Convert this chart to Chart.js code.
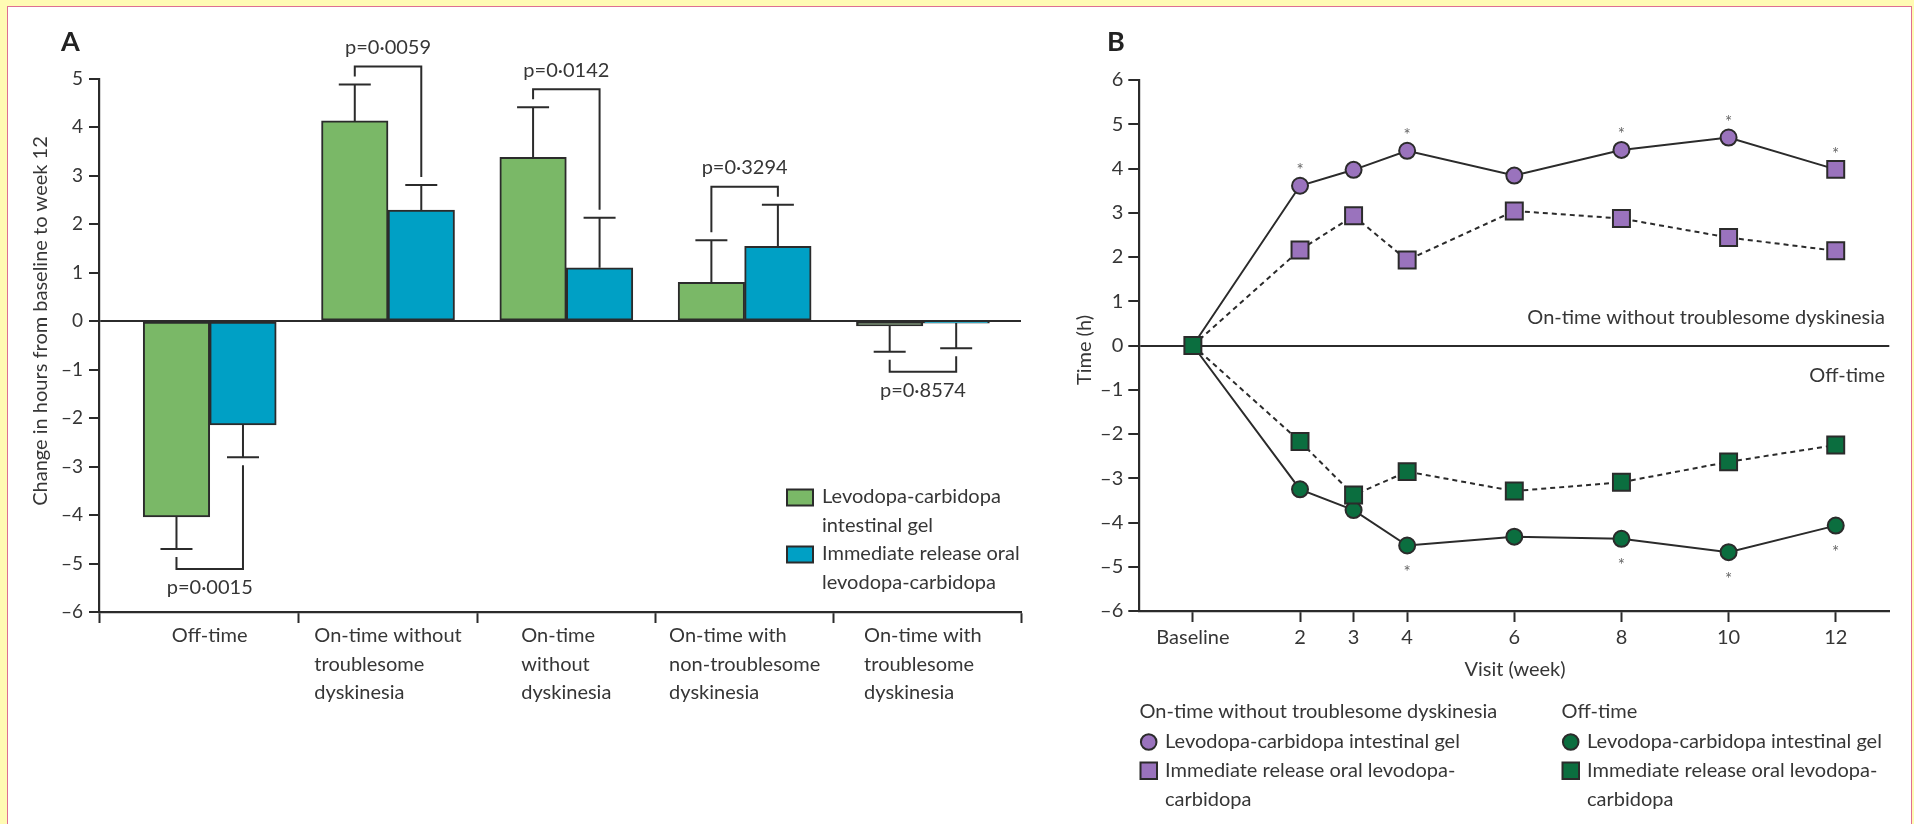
<!DOCTYPE html>
<html>
<head>
<meta charset="utf-8">
<script src="https://cdn.jsdelivr.net/npm/chart.js@4.4.1/dist/chart.umd.min.js"></script>
<style>
  html, body { margin: 0; padding: 0; width: 1914px; height: 824px; overflow: hidden; background: #fffbb4; }
  #frame { position: absolute; left: 7px; top: 6px; width: 1905px; height: 830px; background: #fff;
           border: 1.5px solid #de6f92; border-bottom: none; box-sizing: border-box; }
  canvas { position: absolute; top: 0; }
  #chartA { left: 0; }
  #chartB { left: 1060px; }
</style>
</head>
<body>
<div id="frame"></div>
<canvas id="chartA" width="1060" height="824"></canvas>
<canvas id="chartB" width="854" height="824"></canvas>
<script>
// ---- panel A data ----
const categories = [
  ['Off-time'],
  ['On-time without', 'troublesome', 'dyskinesia'],
  ['On-time', 'without', 'dyskinesia'],
  ['On-time with', 'non-troublesome', 'dyskinesia'],
  ['On-time with', 'troublesome', 'dyskinesia']
];
const lcigChange = [-4.04, 4.13, 3.38, 0.80, -0.10];
const oralChange = [-2.14, 2.29, 1.10, 1.54, -0.04];
const lcigErrEnd = [-4.70, 4.88, 4.41, 1.67, -0.63];
const oralErrEnd = [-2.81, 2.81, 2.13, 2.40, -0.56];
const pValues = ['p=0·0015', 'p=0·0059', 'p=0·0142', 'p=0·3294', 'p=0·8574'];
const legendA = [['Levodopa-carbidopa', 'intestinal gel'], ['Immediate release oral', 'levodopa-carbidopa']];

// ---- panel B data ----
const visitWeeks = [0, 2, 3, 4, 6, 8, 10, 12];
const visitLabels = ['Baseline', '2', '3', '4', '6', '8', '10', '12'];
const onLcig = [0, 3.61, 3.97, 4.40, 3.84, 4.42, 4.70, 3.98];
const onOral = [0, 2.16, 2.93, 1.93, 3.04, 2.87, 2.44, 2.14];
const offLcig = [0, -3.25, -3.72, -4.52, -4.32, -4.37, -4.67, -4.07];
const offOral = [0, -2.17, -3.38, -2.85, -3.29, -3.09, -2.63, -2.25];
const onSigWeeks = [2, 4, 8, 10, 12];
const offSigWeeks = [4, 8, 10, 12];

const GREEN = '#7ab867', BLUE = '#00a0c5', PURPLE = '#9a73bd', DKGREEN = '#0b6e3f';
const INK = '#2b2b2b', TEXT = '#363636';
const FONT = 'Lato, "Open Sans", sans-serif';
Chart.defaults.font.family = FONT;

const dash = v => v < 0 ? '\u2013' + Math.abs(v) : String(v);

function say(ctx, str, x, y, opt = {}) {
  ctx.font = `${opt.weight || 'normal'} ${opt.size || 20}px ${FONT}`;
  ctx.fillStyle = opt.color || TEXT;
  ctx.textAlign = opt.align || 'left';
  ctx.textBaseline = 'middle';
  ctx.fillText(str, x, y);
}
function sayRotated(ctx, str, x, y, size) {
  ctx.save();
  ctx.translate(x, y);
  ctx.rotate(-Math.PI / 2);
  say(ctx, str, 0, 0, { size, align: 'center' });
  ctx.restore();
}

// error bars + p value brackets
const errorBars = {
  id: 'errorBars',
  afterDatasetsDraw(chart) {
    const ctx = chart.ctx, y = chart.scales.y;
    const metaG = chart.getDatasetMeta(0), metaB = chart.getDatasetMeta(1);
    ctx.save();
    ctx.strokeStyle = INK;
    ctx.lineWidth = 2;
    [lcigErrEnd, oralErrEnd].forEach((ends, d) => {
      chart.getDatasetMeta(d).data.forEach((bar, i) => {
        const yEnd = y.getPixelForValue(ends[i]);
        ctx.beginPath();
        ctx.moveTo(bar.x, bar.y);
        ctx.lineTo(bar.x, yEnd);
        ctx.moveTo(bar.x - 16, yEnd);
        ctx.lineTo(bar.x + 16, yEnd);
        ctx.stroke();
      });
    });
    categories.forEach((c, i) => {
      const g = metaG.data[i], b = metaB.data[i];
      const gy = y.getPixelForValue(lcigErrEnd[i]), by = y.getPixelForValue(oralErrEnd[i]);
      const up = lcigErrEnd[i] > 0;
      const s = up ? -1 : 1;
      const level = up ? Math.min(gy, by) - 18 : Math.max(gy, by) + 20;
      ctx.beginPath();
      ctx.moveTo(g.x, gy + s * 8);
      ctx.lineTo(g.x, level);
      ctx.lineTo(b.x, level);
      ctx.lineTo(b.x, by + s * 8);
      ctx.stroke();
      say(ctx, pValues[i], (g.x + b.x) / 2, level + s * 19, { align: 'center' });
    });
    ctx.restore();
  }
};

const textA = {
  id: 'textA',
  afterDraw(chart) {
    const ctx = chart.ctx, x = chart.scales.x;
    ctx.save();
    say(ctx, 'A', 61, 42, { weight: 'bold', size: 27, color: '#222' });
    sayRotated(ctx, 'Change in hours from baseline to week 12', 41, 321, 20);
    // category labels, left aligned lines in a centred block
    categories.forEach((lines, i) => {
      const l = Math.max(x.left, x.getPixelForValue(i - 0.5));
      const r = Math.min(x.right, x.getPixelForValue(i + 0.5));
      ctx.font = `20px ${FONT}`;
      const w = Math.max(...lines.map(t => ctx.measureText(t).width));
      const x0 = (l + r) / 2 - w / 2;
      lines.forEach((t, k) => say(ctx, t, x0, 636 + k * 28.3));
    });
    // legend
    [GREEN, BLUE].forEach((col, d) => {
      const top = 489.5 + d * 57;
      ctx.fillStyle = col;
      ctx.fillRect(787, top, 26, 16);
      ctx.strokeStyle = INK;
      ctx.lineWidth = 2;
      ctx.strokeRect(787, top, 26, 16);
      legendA[d].forEach((t, k) => say(ctx, t, 822, 497 + d * 57 + k * 28.3));
    });
    ctx.restore();
  }
};

new Chart(document.getElementById('chartA'), {
  type: 'bar',
  data: {
    datasets: [
      {
        label: legendA[0].join(' '),
        data: lcigChange.map((v, i) => ({ x: i, y: v })),
        backgroundColor: GREEN, borderColor: INK, borderWidth: 2, borderSkipped: false, barThickness: 66.5
      },
      {
        label: legendA[1].join(' '),
        data: oralChange.map((v, i) => ({ x: i, y: v })),
        backgroundColor: BLUE, borderColor: INK, borderWidth: 2, borderSkipped: false, barThickness: 66.5
      }
    ]
  },
  options: {
    responsive: false,
    animation: false,
    layout: { padding: { left: 0, top: 78.7, right: 39, bottom: 0 } },
    plugins: { legend: { display: false }, tooltip: { enabled: false } },
    scales: {
      x: {
        type: 'linear', min: -0.621, max: 4.55, offset: false,
        afterBuildTicks: s => { s.ticks = [-0.621, 0.5, 1.5, 2.5, 3.5, 4.55].map(v => ({ value: v })); },
        afterFit: s => { s.height = 212; },
        ticks: { display: false },
        grid: { offset: false, drawOnChartArea: false, tickLength: 11, tickColor: INK, tickWidth: 2 },
        border: { color: INK, width: 2.2 }
      },
      y: {
        min: -6, max: 5,
        afterFit: s => { s.width = 99; },
        ticks: { stepSize: 1, padding: 6, color: TEXT, font: { size: 19 }, callback: dash },
        grid: {
          color: c => (c.tick && c.tick.value === 0) ? INK : 'rgba(0,0,0,0)',
          lineWidth: 2, tickLength: 10, tickColor: INK, tickWidth: 2
        },
        border: { color: INK, width: 2.2 }
      }
    }
  },
  plugins: [errorBars, textA]
});

// ---- panel B ----
const lastIdx = visitWeeks.length - 1;
function series(values, fill, dashed, shapes, radii) {
  return {
    data: visitWeeks.map((w, i) => ({ x: w, y: values[i] })),
    borderColor: INK, borderWidth: 2, borderDash: dashed ? [5, 4] : [],
    pointStyle: shapes, pointRadius: radii,
    pointBackgroundColor: fill, pointBorderColor: INK, pointBorderWidth: 2, tension: 0
  };
}
const rects = visitWeeks.map(() => 'rect');
const rectR = visitWeeks.map((w, i) => i === 0 ? 0 : 12);
const circR = visitWeeks.map((w, i) => i === 0 ? 0 : (i === lastIdx ? 12 : 8));
const circles = visitWeeks.map((w, i) => i === lastIdx ? 'rect' : 'circle');
const circlesOff = visitWeeks.map(() => 'circle');
const circROff = visitWeeks.map((w, i) => i === 0 ? 0 : 8);

const asterisks = {
  id: 'asterisks',
  afterDatasetsDraw(chart) {
    const ctx = chart.ctx;
    ctx.save();
    ctx.font = `17px ${FONT}`;
    ctx.fillStyle = '#666';
    ctx.textAlign = 'center';
    ctx.textBaseline = 'alphabetic';
    const onMeta = chart.getDatasetMeta(3), offMeta = chart.getDatasetMeta(2);
    onSigWeeks.forEach(w => {
      const p = onMeta.data[visitWeeks.indexOf(w)];
      ctx.fillText('*', p.x, p.y - 19 + 9.5);
    });
    offSigWeeks.forEach(w => {
      const p = offMeta.data[visitWeeks.indexOf(w)];
      ctx.fillText('*', p.x, p.y + 23 + 9.5);
    });
    ctx.restore();
  }
};

const textB = {
  id: 'textB',
  afterDraw(chart) {
    const ctx = chart.ctx;
    ctx.save();
    say(ctx, 'B', 47, 42, { weight: 'bold', size: 27, color: '#222' });
    sayRotated(ctx, 'Time (h)', 25, 350, 20);
    say(ctx, 'Visit (week)', 455, 670, { align: 'center' });
    say(ctx, 'On-time without troublesome dyskinesia', 825, 318, { align: 'right' });
    say(ctx, 'Off-time', 825, 376, { align: 'right' });
    // legend
    const groups = [
      { x: 79.5, head: 'On-time without troublesome dyskinesia', fill: PURPLE },
      { x: 501.5, head: 'Off-time', fill: DKGREEN }
    ];
    groups.forEach(g => {
      say(ctx, g.head, g.x, 712);
      ctx.strokeStyle = INK;
      ctx.lineWidth = 2;
      ctx.fillStyle = g.fill;
      ctx.beginPath();
      ctx.arc(g.x + 9.2, 742, 7.8, 0, Math.PI * 2);
      ctx.fill();
      ctx.stroke();
      ctx.fillStyle = g.fill;
      ctx.fillRect(g.x + 1, 762.5, 16.5, 16.5);
      ctx.strokeRect(g.x + 1, 762.5, 16.5, 16.5);
      say(ctx, 'Levodopa-carbidopa intestinal gel', g.x + 25.5, 742);
      say(ctx, 'Immediate release oral levodopa-', g.x + 25.5, 771);
      say(ctx, 'carbidopa', g.x + 25.5, 800);
    });
    ctx.restore();
  }
};

new Chart(document.getElementById('chartB'), {
  type: 'line',
  data: {
    datasets: [
      series(offOral, DKGREEN, true, rects, visitWeeks.map(() => 12)),
      series(onOral, PURPLE, true, rects, rectR),
      series(offLcig, DKGREEN, false, circlesOff, circROff),
      series(onLcig, PURPLE, false, circles, circR)
    ]
  },
  options: {
    responsive: false,
    animation: false,
    layout: { padding: { left: 0, top: 80, right: 24.7, bottom: 0 } },
    plugins: { legend: { display: false }, tooltip: { enabled: false } },
    scales: {
      x: {
        type: 'linear', min: -1, max: 13,
        afterBuildTicks: s => { s.ticks = visitWeeks.map(v => ({ value: v })); },
        afterFit: s => { s.height = 213; },
        ticks: {
          padding: 4, color: TEXT, font: { size: 20 }, maxRotation: 0, autoSkip: false,
          callback: v => visitLabels[visitWeeks.indexOf(v)]
        },
        grid: { drawOnChartArea: false, tickLength: 11, tickColor: INK, tickWidth: 2 },
        border: { color: INK, width: 2.2 }
      },
      y: {
        min: -6, max: 6,
        afterFit: s => { s.width = 79.3; },
        ticks: { stepSize: 1, padding: 5, color: TEXT, font: { size: 20 }, callback: dash },
        grid: {
          color: c => (c.tick && c.tick.value === 0) ? INK : 'rgba(0,0,0,0)',
          lineWidth: 2, tickLength: 11, tickColor: INK, tickWidth: 2
        },
        border: { color: INK, width: 2.2 }
      }
    }
  },
  plugins: [asterisks, textB]
});
</script>
</body>
</html>
